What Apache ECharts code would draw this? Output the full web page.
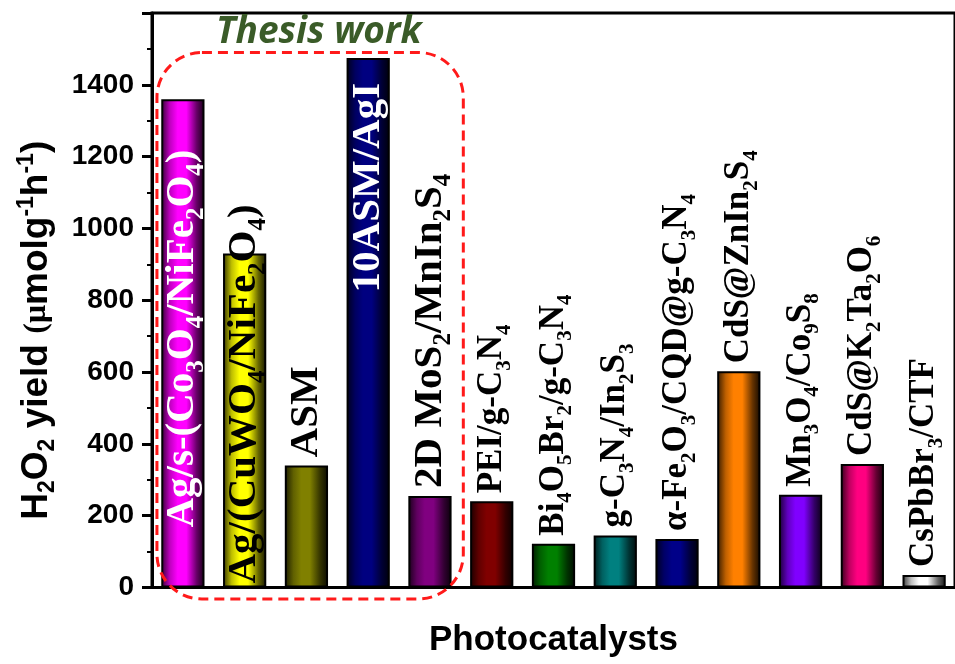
<!DOCTYPE html>
<html>
<head>
<meta charset="utf-8">
<script src="https://cdn.jsdelivr.net/npm/echarts@6/dist/echarts.min.js"></script>
<style>
  html, body { margin: 0; padding: 0; background: #fff; }
  #chart { width: 955px; height: 664px; }
</style>
</head>
<body>
<div id="chart"></div>
<script>
// catalysts, first five are the thesis work
const categories = [
  'Ag/s-(Co3O4/NiFe2O4)',
  'Ag/(CuWO4/NiFe2O4)',
  'ASM',
  '10ASM/AgI',
  '2D MoS2/MnIn2S4',
  'PEI/g-C3N4',
  'Bi4O5Br2/g-C3N4',
  'g-C3N4/In2S3',
  'α-Fe2O3/CQD@g-C3N4',
  'CdS@ZnIn2S4',
  'Mn3O4/Co9S8',
  'CdS@K2Ta2O6',
  'CsPbBr3/CTF'
]
const yields = [1360, 930, 340, 1475, 255, 240, 122, 145, 135, 602, 258, 344, 35]
const barColors = [
  '#ff00ff', '#ffff00', '#808000', '#000080', '#800080', '#800000', '#008000',
  '#008080', '#000088', '#ff8000', '#8000ff', '#ff0080', '#ffffff'
]
const thesisCount = 5

const serif = 'Liberation Serif'
const sans = 'Liberation Sans'

function shade(hex, k) {
  const n = parseInt(hex.slice(1), 16)
  const r = Math.round(((n >> 16) & 255) * k)
  const g = Math.round(((n >> 8) & 255) * k)
  const b = Math.round((n & 255) * k)
  return 'rgb(' + r + ',' + g + ',' + b + ')'
}

function barFill(hex) {
  return new echarts.graphic.LinearGradient(0, 0, 1, 0, [
    { offset: 0, color: shade(hex, 0.2) },
    { offset: 0.2, color: shade(hex, 0.75) },
    { offset: 0.38, color: hex },
    { offset: 0.58, color: hex },
    { offset: 0.82, color: shade(hex, 0.4) },
    { offset: 1, color: shade(hex, 0.08) }
  ])
}

// digits after a letter become subscripts
function chem(name) {
  return name.replace(/([A-Za-z])(\d+)/g, '$1{s|$2}')
}

function labelFor(i) {
  const size = i < thesisCount ? 41 : 35
  const lbl = {
    show: true,
    formatter: chem(categories[i]),
    rotate: 90,
    align: 'left',
    verticalAlign: 'middle',
    position: 'top',
    distance: 8,
    color: '#000',
    fontFamily: serif,
    fontWeight: 'bold',
    fontSize: size,
    lineHeight: Math.round(size * 1.3),
    rich: {
      s: {
        fontFamily: serif,
        fontWeight: 'bold',
        fontSize: Math.round(size * 0.6),
        lineHeight: Math.round(size * 0.6),
        verticalAlign: 'bottom'
      }
    }
  }
  if (i === 0) { lbl.position = 'insideBottom'; lbl.distance = 60; lbl.color = '#fff' }
  if (i === 1) { lbl.position = 'insideBottom'; lbl.distance = 4 }
  if (i === 3) { lbl.position = 'insideTop'; lbl.align = 'right'; lbl.distance = 25; lbl.color = '#fff' }
  return lbl
}

const barData = yields.map((v, i) => ({
  value: v,
  itemStyle: { color: barFill(barColors[i]) },
  label: labelFor(i)
}))

const chart = echarts.init(document.getElementById('chart'))

chart.setOption({
  animation: false,
  grid: {
    left: 152,
    right: -13,
    top: 13,
    bottom: 76.5,
    show: true,
    borderColor: '#000',
    borderWidth: 3
  },
  xAxis: {
    type: 'category',
    data: categories,
    name: 'Photocatalysts',
    nameLocation: 'middle',
    nameGap: 35,
    nameTextStyle: { fontFamily: sans, fontWeight: 'bold', fontSize: 35, color: '#000' },
    axisLine: { lineStyle: { color: '#000', width: 3 } },
    axisTick: { show: false },
    axisLabel: { show: false }
  },
  yAxis: {
    type: 'value',
    min: 0,
    max: 1600,
    interval: 200,
    name: 'H{sub|2}O{sub|2} yield {mu|(μ}molg{sup|-1}h{sup|-1})',
    nameLocation: 'middle',
    nameGap: 93,
    nameTextStyle: {
      fontFamily: sans,
      fontWeight: 'bold',
      fontSize: 37,
      lineHeight: 44,
      color: '#000',
      padding: [0, 60, 0, 0],
      rich: {
        sub: { fontFamily: sans, fontWeight: 'bold', fontSize: 23, lineHeight: 23, verticalAlign: 'bottom' },
        sup: { fontFamily: sans, fontWeight: 'bold', fontSize: 23, lineHeight: 23, verticalAlign: 'top' },
        mu: { fontFamily: serif, fontSize: 32 }
      }
    },
    axisLine: { show: true, lineStyle: { color: '#000', width: 3 } },
    axisTick: { show: true, length: 10, lineStyle: { color: '#000', width: 3 } },
    minorTick: { show: true, splitNumber: 2, length: 5, lineStyle: { color: '#000', width: 2 } },
    splitLine: { show: false },
    axisLabel: {
      showMaxLabel: false,
      margin: 18,
      formatter: (v) => String(v),
      fontFamily: sans,
      fontWeight: 'bold',
      fontSize: 28,
      color: '#000'
    }
  },
  series: [
    {
      type: 'bar',
      data: barData,
      barWidth: '70%',
      itemStyle: { borderColor: '#000', borderWidth: 2 }
    }
  ]
})

// thesis work frame, placed from the axes
const px = (i) => chart.convertToPixel({ xAxisIndex: 0 }, i)
const py = (v) => chart.convertToPixel({ yAxisIndex: 0 }, v)
const band = px(1) - px(0)
const boxLeft = px(0) - 0.42 * band
const boxRight = px(thesisCount - 1) + 0.54 * band
const boxTop = py(1490)
const boxBottom = py(-32)

chart.setOption({
  graphic: [
    {
      type: 'rect',
      z: 100,
      shape: { x: boxLeft, y: boxTop, width: boxRight - boxLeft, height: boxBottom - boxTop, r: 45 },
      style: { fill: 'none', stroke: '#ff1a1a', lineWidth: 3, lineDash: [10, 6] }
    },
    {
      type: 'text',
      z: 100,
      x: px(2) + 0.2 * band,
      y: py(1545),
      style: {
        text: 'Thesis work',
        fontFamily: 'Open Sans',
        fontStyle: 'italic',
        fontWeight: 'bold',
        fontSize: 37,
        fill: '#3a5b28',
        align: 'center',
        verticalAlign: 'middle'
      }
    }
  ]
})
</script>
</body>
</html>
